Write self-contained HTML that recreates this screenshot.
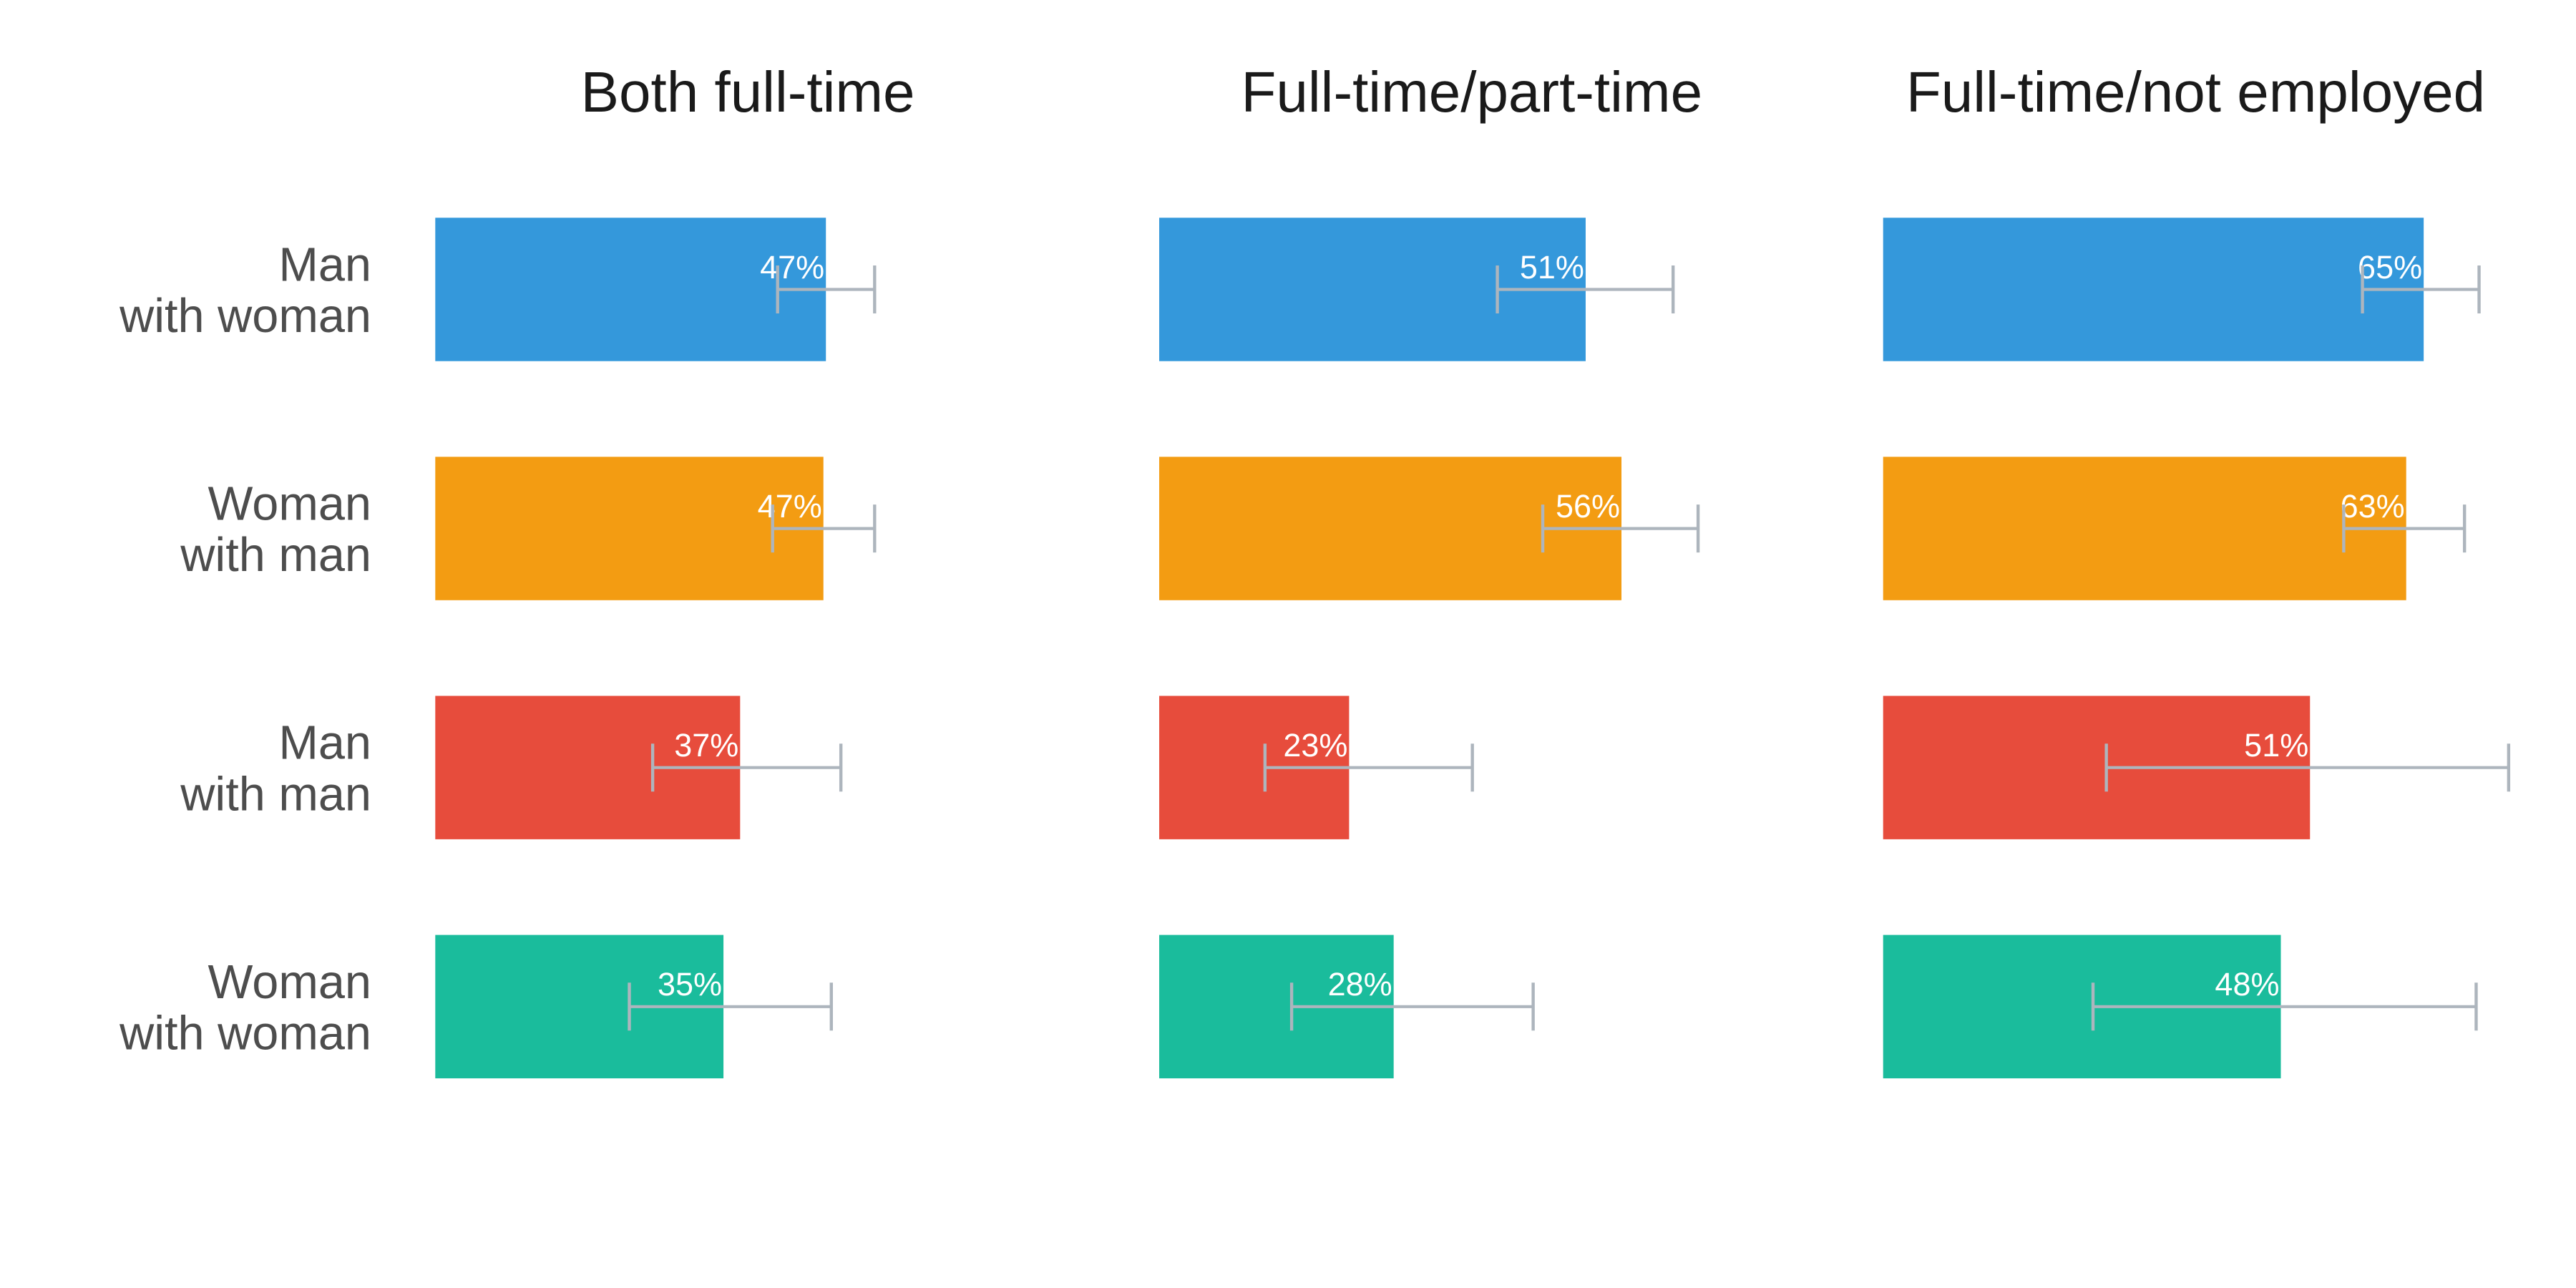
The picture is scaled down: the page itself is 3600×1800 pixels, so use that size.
<!DOCTYPE html>
<html lang="en">
<head>
<meta charset="utf-8">
<title>Share by couple type and employment arrangement</title>
<style>
  html, body { margin: 0; padding: 0; background: #ffffff; }
  svg { display: block; font-family: "Liberation Sans", Arial, sans-serif; }
</style>
</head>
<body>
<svg id="chart" xmlns="http://www.w3.org/2000/svg" width="3600" height="1800" viewBox="0 0 3600 1800">
  <rect x="0" y="0" width="3600" height="1800" fill="#ffffff"></rect>
</svg>
<script>
const panelTitles = ["Both full-time", "Full-time/part-time", "Full-time/not employed"];
const categoryFirstLines = ["Man", "Woman", "Man", "Woman"];
const categorySecondLines = ["with woman", "with man", "with man", "with woman"];

const bothFullTimeValues = [46.9, 46.6, 36.6, 34.6];
const bothFullTimeLow = [41.1, 40.5, 26.1, 23.3];
const bothFullTimeHigh = [52.75, 52.75, 48.7, 47.55];

const partTimeValues = [51.2, 55.5, 22.8, 28.15];
const partTimeLow = [40.6, 46.05, 12.7, 15.9];
const partTimeHigh = [61.7, 64.7, 37.6, 44.9];

const notEmployedValues = [64.9, 62.8, 51.25, 47.75];
const notEmployedLow = [57.55, 55.3, 26.8, 25.2];
const notEmployedHigh = [71.55, 69.8, 75.1, 71.2];

const panelValues = [bothFullTimeValues, partTimeValues, notEmployedValues];
const panelLow = [bothFullTimeLow, partTimeLow, notEmployedLow];
const panelHigh = [bothFullTimeHigh, partTimeHigh, notEmployedHigh];

const svg = document.getElementById('chart');
const NS = 'http://www.w3.org/2000/svg';
const barColors = ['#3498db', '#f39c12', '#e74c3c', '#1abc9c'];
const errorColor = '#adb5bd';

function panelLeft(p) { return 608.3 + p * 1011.7; }
function xScale(p, v) { return panelLeft(p) + v * 11.64; }
function panelCenter(p) { return panelLeft(p) + 436.8; }
function bandTop(r) { return 304.3 + r * 334.1; }
const bandHeight = 200.4;
function bandCenter(r) { return bandTop(r) + bandHeight / 2; }

function make(tag, attrs, parent) {
  const el = document.createElementNS(NS, tag);
  for (const k in attrs) el.setAttribute(k, attrs[k]);
  parent.appendChild(el);
  return el;
}

categoryFirstLines.forEach(function (first, r) {
  const label = make('text', { x: 519, y: bandCenter(r) - 12, 'text-anchor': 'end', 'font-size': 66.67, fill: '#4d4d4d' }, svg);
  
  
  const a = make('tspan', { x: 519 }, label);
  a.textContent = first;
  const b = make('tspan', { x: 519, dy: 71.6 }, label);
  b.textContent = categorySecondLines[r];
});

panelTitles.forEach(function (title, p) {
  const t = make('text', { x: panelCenter(p), y: 156, 'text-anchor': 'middle', 'font-size': 80, fill: '#1a1a1a' }, svg);
  
  
  t.textContent = title;

  panelValues[p].forEach(function (value, r) {
    const group = make('g', {}, svg);
    
    

    const bar = make('rect', {
      x: panelLeft(p), y: bandTop(r),
      width: xScale(p, value) - xScale(p, 0), height: bandHeight,
      fill: barColors[r]
    }, group);
    
    

    const valueLabel = make('text', {
      x: xScale(p, value) - 2, y: bandCenter(r) - 15.6,
      'text-anchor': 'end', 'font-size': 45, fill: '#ffffff'
    }, group);
    
    
    valueLabel.textContent = Math.round(value) + '%';

    const xLow = xScale(p, panelLow[p][r]);
    const xHigh = xScale(p, panelHigh[p][r]);
    const yc = bandCenter(r);

    const span = make('line', { x1: xLow, x2: xHigh, y1: yc, y2: yc, stroke: errorColor, 'stroke-width': 4.2 }, group);
    
    

    const capLow = make('line', { x1: xLow, x2: xLow, y1: yc - 33.5, y2: yc + 33.5, stroke: errorColor, 'stroke-width': 4.4 }, group);
    
    

    const capHigh = make('line', { x1: xHigh, x2: xHigh, y1: yc - 33.5, y2: yc + 33.5, stroke: errorColor, 'stroke-width': 4.4 }, group);
    
    
  });
});
</script>
</body>
</html>
